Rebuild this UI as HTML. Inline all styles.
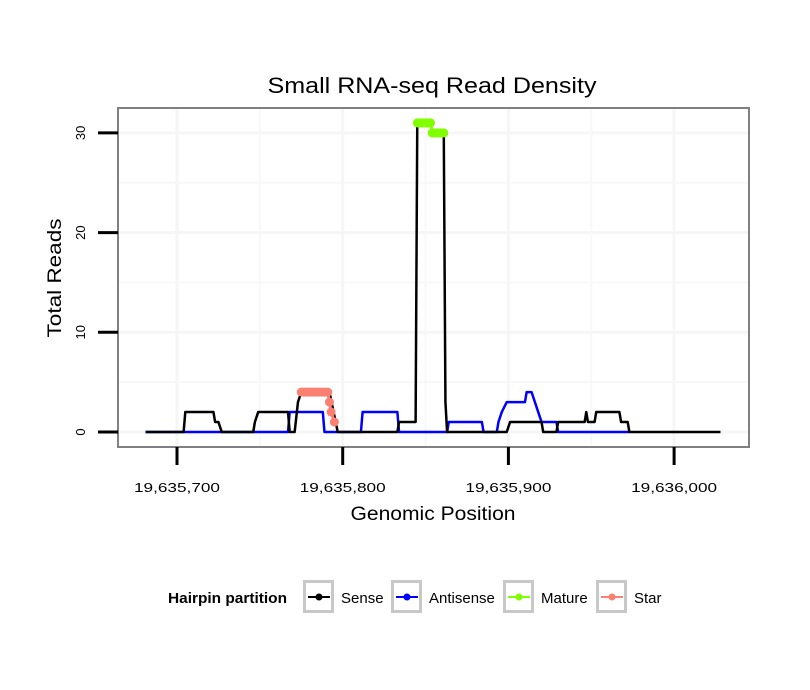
<!DOCTYPE html>
<html><head><meta charset="utf-8"><style>body{margin:0;background:#fff}svg{display:block;font-family:"Liberation Sans",sans-serif}</style></head>
<body>
<svg id="chart" width="810" height="690">
<rect width="810" height="690" fill="#fff"/>
<text x="432" y="93" font-size="22" textLength="329" lengthAdjust="spacingAndGlyphs" text-anchor="middle">Small RNA-seq Read Density</text>
<g id="grid"></g>
<g id="series"></g>
<rect x="118" y="108" width="631" height="339" fill="none" stroke="#808080" stroke-width="2"/>
<g id="axes"></g>
<text x="433" y="520" font-size="19" textLength="165" lengthAdjust="spacingAndGlyphs" text-anchor="middle">Genomic Position</text>
<text transform="translate(61,278) rotate(-90)" font-size="19" textLength="119" lengthAdjust="spacingAndGlyphs" text-anchor="middle">Total Reads</text>
<g>
<text x="168" y="603" font-size="15" font-weight="bold" textLength="119" lengthAdjust="spacingAndGlyphs">Hairpin partition</text>
<g id="legend"></g>
</g>
</svg>
<script>
const B = 19635000;
const xTicks = [19635700, 19635800, 19635900, 19636000];
const xTickLabels = ["19,635,700", "19,635,800", "19,635,900", "19,636,000"];
const yTicks = [0, 10, 20, 30];
const senseData = [[681,0],[704,0],[705,2],[722,2],[723,1],[725,1],[727,0],[746,0],[747,1],[749,2],[767,2],[768,0],[771,0],[773,3],[775,4],[792,4],[797,0],[833,0],[834,1],[844,1],[845,31],[853,31],[854,30],[861,30],[862,3],[863,0],[899,0],[901,1],[920,1],[921,0],[929,0],[930,1],[946,1],[947,2],[948,1],[952,1],[953,2],[967,2],[968,1],[972,1],[973,0],[1028,0]];
const antisenseData = [[681,0],[767,0],[768,2],[788,2],[789,0],[811,0],[812,2],[833,2],[834,0],[863,0],[864,1],[884,1],[885,0],[893,0],[894,1],[896,2],[899,3],[910,3],[911,4],[914,4],[916,3],[918,2],[920,1],[929,1],[930,0],[973,0]];
const matureData = [[845,31],[846,31],[847,31],[848,31],[849,31],[850,31],[851,31],[852,31],[853,31],[854,30],[855,30],[856,30],[857,30],[858,30],[859,30],[860,30],[861,30]];
const starData = [[775,4],[776,4],[777,4],[778,4],[779,4],[780,4],[781,4],[782,4],[783,4],[784,4],[785,4],[786,4],[787,4],[788,4],[789,4],[790,4],[791,4],[792,3],[793,2],[795,1]];
const legendLabels = ["Sense","Antisense","Mature","Star"];
const legendColors = ["#000000","#0000ff","#80ff00","#fa8072"];

const NS = "http://www.w3.org/2000/svg";
const xS = v => 177 + (v - 19635700) * 1.657;
const yS = v => 432 - v * 9.97;
function mk(tag, attrs, parent){const e=document.createElementNS(NS,tag);for(const k in attrs)e.setAttribute(k,attrs[k]);parent.appendChild(e);return e;}
const grid=document.getElementById('grid'), axes=document.getElementById('axes'), ser=document.getElementById('series'), leg=document.getElementById('legend');

[5,15,25].forEach(v=>{const l=mk('line',{x1:119,x2:748,y1:yS(v),y2:yS(v),stroke:'#f8f8f8','stroke-width':2},grid);

});
yTicks.forEach(v=>{const l=mk('line',{x1:119,x2:748,y1:yS(v),y2:yS(v),stroke:'#f6f6f6','stroke-width':3},grid);

});
[19635650,19635750,19635850,19635950,19636050].forEach(v=>{const x=xS(v);if(x<119||x>748)return;const l=mk('line',{x1:x,x2:x,y1:109,y2:446,stroke:'#f8f8f8','stroke-width':2},grid);

});
xTicks.forEach(v=>{const l=mk('line',{x1:xS(v),x2:xS(v),y1:109,y2:446,stroke:'#f6f6f6','stroke-width':3},grid);

});

yTicks.forEach(v=>{const t=mk('line',{x1:98,x2:118,y1:yS(v),y2:yS(v),stroke:'#000','stroke-width':3},axes);


const tx=mk('text',{transform:`translate(85,${yS(v)}) rotate(-90)`,'font-size':13,'text-anchor':'middle'},axes);tx.textContent=v;

});
xTicks.forEach((v,i)=>{const t=mk('line',{x1:xS(v),x2:xS(v),y1:447,y2:465,stroke:'#000','stroke-width':3},axes);


const tx=mk('text',{x:xS(v),y:492,'font-size':13,textLength:86,lengthAdjust:'spacingAndGlyphs','text-anchor':'middle'},axes);tx.textContent=xTickLabels[i];

});

function line(data,color,name){const p=mk('polyline',{points:data.map(d=>xS(B+d[0])+','+yS(d[1])).join(' '),fill:'none',stroke:color,'stroke-width':2.5,'stroke-linejoin':'round'},ser);

}
function dots(data,color,name){const g=mk('g',{},ser);


data.forEach(d=>mk('circle',{cx:xS(B+d[0]),cy:yS(d[1]),r:4.5,fill:color},g));
mk('polyline',{points:data.map(d=>xS(B+d[0])+','+yS(d[1])).join(' '),fill:'none',stroke:color,'stroke-width':3},g);}
line(antisenseData,'#0000ff','antisense-line');
line(senseData,'#000000','sense-line');
dots(starData,'#fa8072','star-points');
dots(matureData,'#80ff00','mature-points');

const lx=[303,391,503,596], lt=[341,429,541,634];
legendLabels.forEach((lab,i)=>{const g=mk('g',{},leg);


mk('rect',{x:lx[i]+1.5,y:581.5,width:28,height:30,fill:'#fff',stroke:'#c8c8c8','stroke-width':3},g);
mk('line',{x1:lx[i]+5,x2:lx[i]+27,y1:597,y2:597,stroke:legendColors[i],'stroke-width':2},g);
mk('circle',{cx:lx[i]+16,cy:597,r:3.5,fill:legendColors[i]},g);
const t=mk('text',{x:lt[i],y:603,'font-size':15},g);t.textContent=lab;});
</script>
</body></html>
